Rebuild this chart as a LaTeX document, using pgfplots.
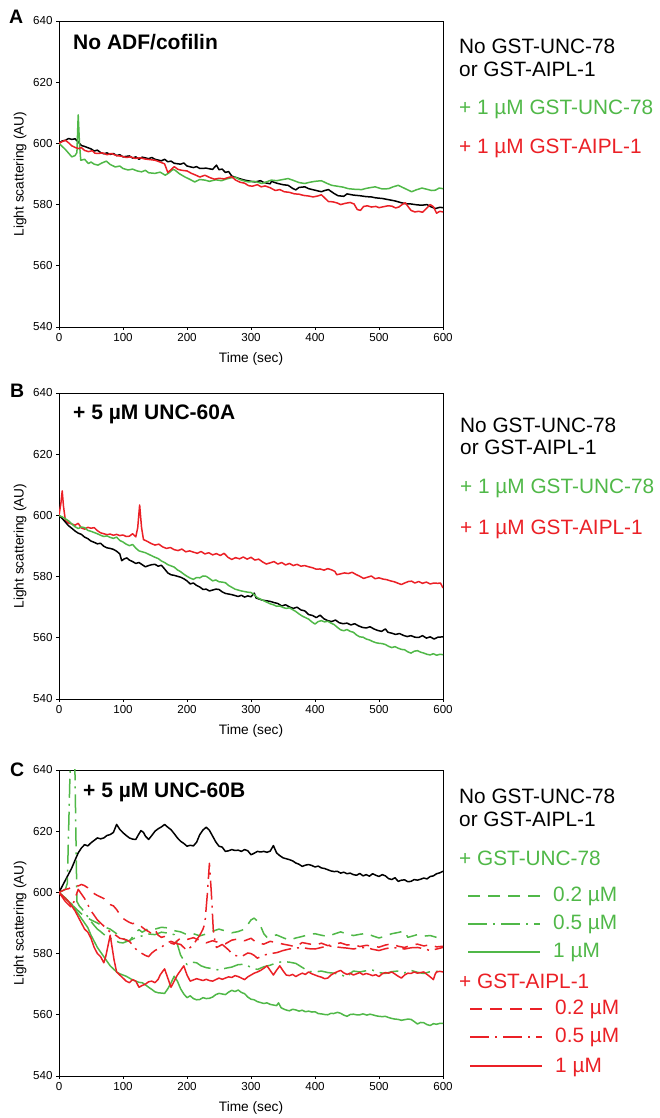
\documentclass[border=0pt]{standalone}
\usepackage{pgfplots}
\pgfplotsset{compat=1.18}
\usepackage{fontspec}
\setmainfont{Liberation Sans}
\definecolor{ggreen}{RGB}{80,184,72}
\definecolor{rred}{RGB}{235,32,38}
\tikzset{
  d02/.style={dash pattern=on 12pt off 8pt},
  d05/.style={dash pattern=on 19pt off 6pt on 2pt off 6pt},
}
\pgfplotsset{
  panel/.style={
    anchor=south west, scale only axis, width=384pt, height=306pt,
    xmin=0, xmax=600, ymin=540, ymax=640,
    xtick={0,100,...,600}, ytick={540,560,...,640},
    tick pos=left, tick align=outside, major tick length=3pt,
    axis line style={line width=0.9pt}, tick style={line width=0.8pt, black},
    ticklabel style={font=\fontsize{11.6}{13}\selectfont},
    /pgf/number format/assume math mode=true,
    /pgf/number format/1000 sep={},
    xlabel={Time (sec)}, ylabel={Light scattering (AU)},
    label style={font=\fontsize{13.7}{16}\selectfont},
    xlabel style={at={(axis description cs:0.5,-0.1176)}, anchor=base},
    ylabel style={at={(axis description cs:-0.1016,0.5)}, anchor=center},
    every axis plot/.append style={line width=1.5pt, line join=round},
  },
}
\begin{document}
\begin{tikzpicture}
\path[use as bounding box] (0pt,0pt) rectangle (660pt,1118pt);

% ---------------- A ----------------
\begin{axis}[panel, at={(59pt,791pt)}]
\addplot[black] coordinates {(0,600)(5,600.8)(10,601)(15,601.6)(20,601.3)(25,601.5)(30,600.5)(35,599.3)(40,599)(45,598.6)(50,598.2)(55,597.5)(60,597.8)(65,597)(70,596.6)(75,596.9)(80,596.4)(85,596.7)(90,596)(95,596.3)(100,595.6)(110,595.9)(115,595.2)(120,595.6)(125,594.8)(130,595.5)(140,595)(145,595.4)(150,594.8)(160,594.3)(165,594.8)(170,594)(175,594.2)(180,593.5)(190,593.2)(195,593.6)(200,592.6)(210,592.1)(215,592.4)(220,591.8)(230,591.9)(240,591.5)(246,592.9)(250,591.4)(255,591.6)(260,590.5)(265,590.8)(270,589.3)(280,588.6)(290,588)(300,587.6)(306,587.4)(315,587.8)(320,587.2)(330,586.8)(332,587.6)(340,587)(350,586.5)(358,586.3)(365,585.3)(370,584.8)(375,585.6)(384,585.8)(390,585.2)(400,584.7)(410,584.2)(415,584.6)(421,584.9)(430,583.6)(436,582.9)(445,582.7)(450,583.5)(460,583.1)(470,582.9)(480,582.6)(488,582.5)(495,582.2)(505,582)(515,581.6)(525,581.2)(535,580.6)(541,580.3)(550,580.2)(560,579.9)(567,579.8)(575,580)(580,579.4)(588,578.7)(595,579.1)(600,579)};
\addplot[ggreen] coordinates {(0,600)(5,599)(10,598)(15,596.8)(20,595.6)(25,596)(28,597)(30,609.3)(32,600)(34,594.5)(40,594.8)(46,593.4)(50,593.9)(55,593.2)(61,592.9)(67,593.6)(74,594.2)(80,593.1)(88,592.3)(95,592.6)(100,591.8)(108,591.3)(115,591.6)(122,591)(129,590.7)(135,591.2)(140,590.4)(150,590.2)(158,590.6)(166,589.6)(172,590.4)(178,591.5)(181,591.3)(188,590.1)(197,589)(204,588.3)(212,587.4)(220,588.2)(228,588)(235,587.6)(245,588.1)(254,587.8)(262,588.4)(270,588.8)(275,589)(282,588.2)(290,587.7)(296,587.4)(305,587.6)(317,586.9)(325,587.5)(332,588)(340,587.8)(350,588.2)(358,588.5)(365,588)(375,587.2)(384,586.9)(392,587.3)(400,587.6)(410,587.8)(418,587)(426,586.3)(435,586)(444,585.7)(452,585.2)(462,585)(473,584.9)(480,585.3)(488,585.6)(494,585.8)(505,585.1)(515,585.2)(522,585.8)(530,586.3)(538,585.5)(545,584.8)(551,584.2)(558,584.8)(567,585.4)(575,585)(582,584.6)(588,584.7)(594,585.4)(600,585.2)};
\addplot[rred] coordinates {(0,600)(5,600.6)(10,601)(15,600.2)(20,599.2)(25,598.7)(30,598.3)(35,598.6)(40,597.7)(46,597.3)(52,597.6)(56,596.8)(61,596.7)(68,596.9)(75,596.3)(82,596.7)(90,596)(98,595.8)(105,595.4)(112,595.6)(119,595.1)(127,595.3)(134,594.9)(142,594.7)(150,594.5)(158,593.9)(165,593.3)(170,590.5)(175,591.4)(180,592.4)(186,591.5)(192,591.2)(200,591)(207,590.2)(214,589.6)(220,589)(228,589.6)(236,588.8)(243,588.3)(250,588.6)(258,588.4)(265,588.9)(270,589.1)(276,588)(283,587.3)(290,587)(296,586.2)(302,586)(310,586.5)(316,585.8)(322,586.1)(330,585.5)(338,584.6)(345,584.9)(352,584.2)(360,584)(368,583.5)(375,583.4)(382,583)(390,582.8)(397,582.5)(404,582.8)(410,583.2)(416,582)(421,581)(428,580.9)(435,580.5)(440,580)(447,580.4)(455,580.7)(461,580.2)(466,578.4)(471,578.1)(476,579.4)(482,579.6)(488,579.2)(495,579.4)(500,579)(507,579.3)(514,579.6)(520,579.5)(526,578.9)(531,579.2)(536,580)(541,580.6)(546,579.2)(550,578.1)(556,577.6)(562,577.8)(568,577.5)(574,578.7)(580,580)(585,579.3)(590,577.2)(595,577.8)(600,577.6)};
\end{axis}

% ---------------- B ----------------
\begin{axis}[panel, at={(59pt,419pt)}]
\addplot[rred] coordinates {(0,600)(3,604)(5,608)(7,603)(10,598.3)(15,597.5)(20,597.2)(25,596.8)(30,597.4)(35,595.9)(40,595.5)(45,596.1)(50,595.8)(55,596)(60,595)(65,594.3)(70,594)(75,593.7)(80,593.9)(85,593.5)(90,593.8)(95,593.4)(100,593.6)(105,593.1)(110,593.2)(115,594)(120,593)(123,596)(126,603.4)(129,596)(132,592.1)(138,591.5)(144,590.8)(150,590.3)(156,590.6)(162,589.7)(168,589.2)(174,589.5)(180,588.8)(186,588.5)(192,589)(198,588.1)(204,588.4)(210,588)(216,587.6)(222,588.2)(228,587.4)(234,587.8)(240,587.1)(246,587.5)(252,586.9)(258,587.6)(264,586.3)(270,585.6)(276,586.2)(282,585.8)(288,586.4)(294,585.7)(300,586.3)(306,585.4)(312,585.7)(318,584.8)(324,584.1)(330,584.5)(336,584.9)(342,584.1)(348,584.6)(354,583.8)(360,584.3)(366,583.6)(372,584)(378,583.4)(384,583.6)(390,583.2)(396,582.9)(402,582.4)(408,582.5)(414,582.1)(420,582.6)(426,582.2)(431,581.7)(434,580.6)(440,580.9)(446,581.2)(452,581)(458,581.4)(464,580.7)(470,580.1)(476,579.4)(482,579.8)(488,580.2)(494,579.3)(500,579.6)(506,579.2)(512,579)(518,578.6)(524,578.3)(530,577.8)(535,577.4)(540,577.9)(546,578.4)(551,578.5)(556,577.9)(562,578.4)(568,577.8)(574,578.2)(580,577.6)(586,577.9)(592,577.8)(596,577.9)(600,576.3)};
\addplot[black] coordinates {(0,600)(5,599)(10,597.8)(15,596.6)(20,595.8)(25,594.9)(30,594.2)(35,593.8)(40,592.9)(45,592.4)(50,591.6)(55,591.2)(60,590.7)(65,590.9)(70,589.9)(75,589.4)(80,589.2)(85,588.9)(90,588.3)(95,587.4)(98,585.2)(102,585.8)(106,586.1)(110,585.4)(115,584.9)(120,584.3)(125,584.6)(130,583.9)(135,583.2)(140,583.6)(145,583.9)(150,584)(155,583.4)(160,583.7)(165,582.5)(170,581.2)(175,580.6)(180,580.4)(185,580.1)(190,579.8)(195,579.3)(200,578.6)(205,577.6)(210,577.9)(215,577.1)(220,576.6)(225,575.8)(230,575.9)(235,575.3)(240,575.6)(245,575.9)(250,575.8)(255,575)(260,574.5)(265,574.3)(270,574.1)(275,573.8)(280,573.5)(285,573.9)(290,573.3)(295,573.7)(300,573.4)(305,574.6)(308,573)(312,572.7)(318,572.3)(324,572.1)(330,571.9)(336,571.5)(342,571.2)(348,570.4)(354,570.8)(360,570.1)(366,569.6)(372,570)(378,569.1)(384,568.8)(390,567.6)(396,567.3)(402,566.6)(408,567.4)(414,566.2)(420,565.6)(426,565.3)(432,565.8)(438,564.9)(444,564.6)(450,564.8)(456,564.2)(462,564.6)(468,563.9)(474,563.4)(480,563.2)(486,563.6)(492,562.9)(498,562.4)(504,562.1)(510,562.9)(514,561.8)(520,561.5)(526,561.1)(532,561.4)(538,560.8)(544,560.4)(550,560.7)(556,560.2)(562,560.1)(568,560.7)(574,559.9)(580,560.3)(586,559.6)(592,560.2)(600,560.3)};
\addplot[ggreen] coordinates {(0,600)(5,599.5)(10,598.9)(15,598.2)(20,597.2)(25,596.3)(30,595.7)(35,596.2)(40,596)(45,595.1)(50,594.8)(55,594.4)(60,594)(65,593.5)(70,593.1)(75,593.3)(80,592.8)(85,592.5)(90,592.9)(95,591.8)(100,591.3)(105,590.6)(110,590.1)(115,590.5)(120,589.3)(125,588.4)(130,588.1)(135,587.8)(140,587.3)(145,586.8)(150,586.3)(155,585.9)(160,585.1)(165,584.6)(170,583.9)(175,583.5)(180,583.1)(185,582.2)(190,581.6)(195,580.8)(200,580.1)(205,579.5)(210,579.1)(215,579.7)(220,579.6)(225,580.2)(230,580.1)(235,579.4)(240,578.6)(245,578.9)(250,578.3)(255,578.2)(260,578.0)(265,577.1)(270,576.5)(275,575.9)(280,575.6)(285,575.3)(290,575.1)(295,574.9)(300,574.8)(305,574.1)(310,573.1)(315,572.6)(320,572.1)(325,571.6)(330,571.1)(335,570.8)(340,570.3)(345,570.4)(350,569.9)(355,569.6)(360,569.8)(365,569.2)(370,568.6)(375,567.8)(380,567.1)(385,566.6)(390,566.1)(395,565.2)(400,564.5)(405,565.3)(410,565.6)(415,565.2)(420,565.4)(425,564.8)(430,564.3)(435,563.4)(440,562.6)(445,562.3)(450,562.7)(455,562.1)(460,561.8)(465,560.9)(470,560.3)(475,560.2)(480,559.6)(485,559.3)(490,558.8)(495,558.4)(500,558.2)(505,558.1)(510,557.8)(515,557.2)(520,556.8)(525,557.1)(530,556.6)(535,556.2)(540,556.1)(545,555.4)(550,555.0)(555,555.6)(560,555.8)(565,555.3)(570,555.0)(575,554.6)(580,554.4)(585,554.8)(590,554.3)(595,554.6)(600,554.5)};
\end{axis}

% ---------------- C ----------------
\begin{axis}[panel, at={(59pt,42pt)}]
% black: no GST-UNC-78 or GST-AIPL-1
\addplot[black] coordinates {(0,600)(5,602)(10,604)(15,606)(20,608)(25,610.5)(30,612.9)(35,614.5)(40,615.6)(45,615.2)(50,616.2)(55,617)(60,617.8)(65,617.5)(70,617.8)(75,618.6)(80,618.9)(85,619.6)(90,622.2)(95,620.6)(100,619.5)(105,618.6)(110,617.8)(115,617.4)(120,617.3)(124,618.8)(128,620.2)(132,619.6)(135,618.4)(140,617.3)(145,618.6)(150,620)(155,620.8)(160,621.4)(165,622.2)(170,621.3)(175,620.5)(180,619.2)(185,617.8)(190,616.7)(195,616)(200,615.1)(205,615.4)(210,615.2)(215,616.4)(220,618.9)(225,620.4)(230,621.3)(235,620.3)(240,618.4)(245,616.5)(250,615.1)(255,614.8)(260,613.4)(265,613.6)(270,614)(275,613.7)(280,613.8)(285,613.4)(290,614)(295,613.6)(300,612.3)(305,612.8)(310,613.4)(315,613.2)(320,613.4)(325,613.1)(330,613.5)(335,615.3)(340,612.9)(345,612)(350,611.3)(355,611.0)(360,610.7)(365,610.3)(370,609.6)(375,609.2)(380,608.5)(385,608.9)(390,609.1)(395,608.8)(400,608.3)(405,608.6)(410,608)(415,607.8)(420,607.4)(425,607)(430,606.8)(435,606.9)(440,606.3)(445,606.6)(450,606.1)(455,606.3)(460,605.8)(465,605.6)(470,606.2)(475,605.4)(480,605.8)(485,605.3)(490,606.1)(495,605.6)(500,605.2)(505,605.8)(510,605.4)(515,604.5)(520,604.2)(525,604.8)(530,603.6)(535,604.0)(540,604.1)(545,603.5)(550,603.6)(555,604.2)(560,604.0)(565,604.3)(570,604.7)(575,604.4)(580,605.2)(585,605.4)(590,606.1)(595,606.4)(600,606.9)};
% green 0.2
\addplot[ggreen, d02] coordinates {(0,600)(5,599)(10,598.2)(15,597)(20,596)(25,595)(30,594)(35,593)(40,592.2)(50,591)(60,590)(70,588.8)(80,588)(90,586.5)(100,585)(105,584.3)(110,584)(115,585.5)(120,587)(125,587.8)(130,587)(140,588.2)(150,588)(160,588.6)(170,588.4)(180,587.5)(190,587.1)(200,586.2)(210,586.5)(220,585.8)(230,586.4)(240,587.3)(250,588)(260,587.4)(270,586.8)(280,587.2)(290,588)(295,589.5)(300,591)(305,591.6)(310,590.6)(315,589)(320,586.5)(325,585.3)(330,585.6)(340,586.1)(350,585.2)(360,584.4)(370,585.1)(380,585.6)(390,586.2)(400,586.5)(410,586)(420,585.6)(430,586.4)(440,587.1)(450,586.4)(460,585.9)(470,586.3)(480,586.6)(490,585.8)(500,585.1)(510,585.7)(520,586.5)(530,586.9)(540,587.4)(545,585.3)(550,585.6)(560,586.2)(570,585.7)(580,585.9)(590,585.3)(600,585.1)};
% green 0.5
\addplot[ggreen, d05] coordinates {(0,600)(5,600.5)(10,601)(13,603)(22,680)(28,597)(32,595.5)(36,594.6)(40,593.5)(45,592)(50,590.5)(55,589.2)(60,588)(65,587.2)(70,586.3)(75,585.6)(80,585)(85,584.4)(90,584)(95,583.6)(100,583.5)(110,584.3)(120,585.2)(130,585.8)(140,586.4)(150,586.2)(160,587)(170,586.7)(180,586.2)(185,583)(190,579.5)(195,577.8)(200,576.4)(208,577.2)(215,577)(222,576)(230,575.4)(240,575.1)(250,574.6)(260,575.2)(270,575.6)(280,576.4)(290,576.5)(300,575.5)(310,574.8)(320,575.7)(330,576.2)(340,577)(350,577.4)(360,577.2)(370,576.8)(380,575.5)(390,574.2)(400,574)(410,574.3)(420,573.8)(430,573.6)(440,573.1)(450,572.3)(455,573.5)(460,574.3)(470,574)(480,574.4)(490,574.6)(500,573.8)(510,573.5)(520,574.1)(530,574.3)(540,573.7)(550,574.5)(560,573.9)(570,573.5)(580,574.1)(590,574.2)(600,574.3)};
% green 1
\addplot[ggreen] coordinates {(0,600)(5,599)(10,598)(15,597)(20,596.2)(25,594.5)(30,593)(35,591.5)(40,590)(45,588.5)(50,586)(55,584)(60,582)(65,580.5)(70,579)(75,577.5)(80,576)(85,575)(90,574)(95,573.4)(100,573)(105,572.6)(110,572)(115,571.4)(120,571)(125,570.6)(130,570.5)(135,569.8)(140,569)(145,568.3)(150,567.5)(155,567.2)(160,567.1)(165,567)(170,568.5)(175,570.4)(180,572.6)(185,571)(190,568.5)(195,566.8)(200,565.6)(205,566.2)(210,565.3)(215,564.9)(220,565)(225,565.6)(230,565.3)(235,565.4)(240,565.8)(245,566.6)(250,567)(255,566.8)(260,566.6)(265,567.4)(270,568)(275,567.6)(280,568.1)(285,567.3)(290,566.9)(295,565.8)(300,565.1)(305,564.9)(310,564.3)(315,564)(320,563.7)(325,563.9)(330,563.4)(335,563.2)(340,563)(343,563.9)(347,562.3)(352,561.8)(356,561.5)(360,561.3)(365,561.8)(370,561.6)(375,561.2)(380,561.5)(385,561)(390,561.2)(395,560.9)(400,561)(405,560.4)(410,560.3)(415,560.1)(420,560)(425,560.5)(429,560.4)(435,560.8)(440,560.5)(445,559.9)(450,559.5)(455,560.1)(460,560.2)(465,560)(470,560)(475,560.3)(481,559.9)(486,560.2)(490,560)(495,559.7)(500,559.5)(505,559.4)(510,559.5)(515,559.1)(520,558.8)(525,558.6)(530,558.5)(535,558.2)(540,558.4)(545,558.6)(550,558.5)(555,557.8)(560,557)(565,557.5)(570,557.4)(575,556.8)(580,556.5)(585,557.1)(590,556.9)(595,557.2)(600,557.2)};
% red 0.2
\addplot[rred, d02] coordinates {(0,600)(5,600.5)(10,601)(15,601.2)(20,601.8)(25,602.4)(30,602.1)(35,602.6)(40,602.2)(45,601.5)(50,600.4)(55,599.6)(60,599)(65,598.5)(70,598)(75,596.8)(80,596)(85,595.6)(90,594.4)(95,592.8)(100,591.5)(105,590.8)(110,590.2)(115,589.8)(120,590)(125,589.5)(130,588.6)(135,587.8)(140,587.2)(145,586.5)(150,587.8)(155,586)(160,585.3)(165,585.6)(170,584.6)(175,583.4)(180,583.1)(185,584.2)(190,585.1)(200,584.6)(210,585.2)(220,584.3)(230,583.5)(240,584.2)(250,583.6)(260,583.2)(270,584.4)(280,584.8)(290,584.2)(300,585.0)(310,583.4)(320,583.1)(330,584.0)(340,583.6)(350,583.1)(360,582.7)(370,582.2)(380,583.6)(390,583.2)(400,582.8)(410,583.4)(420,582.6)(430,583.1)(440,583.5)(450,582.8)(460,583.0)(470,582.3)(480,582.7)(490,582.5)(500,582.1)(510,582.8)(520,583.2)(530,582.4)(540,582.0)(550,582.7)(560,583.1)(570,582.5)(580,582.9)(590,582.2)(600,582.4)};
% red 0.5
\addplot[rred, d05] coordinates {(0,600)(5,598.5)(10,597)(15,596)(20,595)(25,598)(30,601)(35,599.5)(40,598)(45,596)(50,594)(55,592.5)(60,591)(65,590)(70,589)(75,588)(80,587)(85,586.4)(90,585.8)(95,585)(100,584.8)(105,584.5)(110,584)(115,582.8)(120,581.5)(125,580.6)(130,580)(135,579.4)(140,579)(145,580.2)(150,581)(155,581.6)(160,582)(165,583)(170,583.6)(175,584)(180,583.6)(185,583.2)(190,583)(195,582)(200,581)(205,582)(210,583)(215,584.5)(220,586)(225,588)(228,590)(232,600)(235,609.5)(238,600)(241,588)(244,583.5)(246,582)(250,582.4)(255,583)(260,582.1)(265,581.2)(270,580)(275,579.4)(280,579.2)(285,579)(290,579.6)(295,580.2)(300,580)(305,579.4)(310,578.5)(315,579)(320,579.5)(330,580)(340,580.3)(350,581)(360,581.5)(370,581.8)(380,582)(390,581.6)(400,581.5)(410,582)(420,582.5)(430,582.3)(440,582)(450,581.8)(460,581.5)(470,581.9)(480,582)(490,581.4)(500,581)(510,581.6)(520,582)(530,581.8)(540,581.5)(550,581.9)(560,582)(570,581.6)(580,581)(590,581.5)(600,582)};
% red 1
\addplot[rred] coordinates {(0,600)(5,599)(10,598)(15,597)(20,595.5)(25,594)(30,592)(35,590)(40,588)(45,587)(50,585)(55,582)(60,580)(65,579)(70,577)(73,579)(76,582)(80,586)(83,582)(86,578)(90,574)(95,573)(100,572)(105,571)(110,570.5)(115,571.5)(120,571)(125,569)(130,569.6)(135,570)(140,570.8)(145,571)(150,570.5)(155,571.6)(158,573)(162,574.2)(165,575)(170,572)(175,569)(180,571)(185,573)(190,574.5)(195,576)(200,573)(205,571)(210,571.4)(215,571.8)(220,571.5)(225,571.2)(230,571.6)(235,571.2)(240,571)(245,571.5)(250,572)(255,571.6)(260,572)(265,572.4)(270,572.2)(275,572.8)(280,572.5)(285,572)(290,571.5)(295,572.4)(300,573)(305,573.6)(310,574)(315,574.5)(320,575.2)(325,576)(330,574.5)(335,573)(340,574.6)(345,576)(350,574.4)(355,573)(360,572.8)(365,573.2)(370,572.5)(375,573.1)(380,573.6)(385,573.2)(390,574)(395,573.4)(400,573)(405,572.6)(410,572.3)(415,571.8)(420,572)(425,573)(430,573.6)(435,574.1)(440,574.5)(445,573.7)(450,573.2)(455,573.6)(460,573)(465,573.4)(470,573.8)(475,573.1)(480,573.5)(485,573.2)(490,572.8)(495,573.1)(500,572.5)(505,573.4)(510,573.8)(515,573.6)(520,574)(525,573.3)(530,572.6)(535,572)(540,573)(545,573.6)(550,573.5)(555,574)(560,573.6)(565,573.8)(570,574)(575,573.2)(580,572.4)(585,571.5)(588,573.4)(590,574)(595,574.2)(600,574)};
\end{axis}

% panel letters and titles
\begin{scope}[every node/.style={inner sep=0pt, anchor=base west}]
\node[font=\bfseries\fontsize{19.5}{22}\selectfont] at (9pt,1094pt) {A};
\node[font=\bfseries\fontsize{19.5}{22}\selectfont] at (10pt,720pt) {B};
\node[font=\bfseries\fontsize{19.5}{22}\selectfont] at (10pt,341pt) {C};
\node[font=\bfseries\fontsize{21}{24}\selectfont] at (73pt,1068pt) {No ADF/cofilin};
\node[font=\bfseries\fontsize{21}{24}\selectfont] at (73pt,698pt) {+ 5 µM UNC-60A};
\node[font=\bfseries\fontsize{21}{24}\selectfont] at (83pt,320pt) {+ 5 µM UNC-60B};
\end{scope}

% legends
\begin{scope}[every node/.style={inner sep=0pt, anchor=base west, font=\fontsize{20.8}{24}\selectfont}]
\node at (459pt,1064pt) {No GST-UNC-78};
\node at (459pt,1041pt) {or GST-AIPL-1};
\node[text=ggreen] at (459pt,1003pt) {+ 1 µM GST-UNC-78};
\node[text=rred] at (459pt,964pt) {+ 1 µM GST-AIPL-1};

\node at (460pt,685pt) {No GST-UNC-78};
\node at (460pt,663pt) {or GST-AIPL-1};
\node[text=ggreen] at (460pt,624pt) {+ 1 µM GST-UNC-78};
\node[text=rred] at (460pt,583pt) {+ 1 µM GST-AIPL-1};

\node at (459pt,314pt) {No GST-UNC-78};
\node at (459pt,291pt) {or GST-AIPL-1};
\node[text=ggreen] at (459pt,252pt) {+ GST-UNC-78};
\node[text=ggreen] at (553pt,216pt) {0.2 µM};
\node[text=ggreen] at (553pt,188pt) {0.5 µM};
\node[text=ggreen] at (553pt,160pt) {1 µM};
\node[text=rred] at (459pt,129pt) {+ GST-AIPL-1};
\node[text=rred] at (555pt,103pt) {0.2 µM};
\node[text=rred] at (555pt,75pt) {0.5 µM};
\node[text=rred] at (555pt,45pt) {1 µM};
\end{scope}
\draw[ggreen, line width=1.5pt, d02] (468pt,222pt) -- (540pt,222pt);
\draw[ggreen, line width=1.5pt, d05] (468pt,194pt) -- (540pt,194pt);
\draw[ggreen, line width=1.5pt] (468pt,166pt) -- (540pt,166pt);
\draw[rred, line width=1.5pt, d02] (470pt,109pt) -- (542pt,109pt);
\draw[rred, line width=1.5pt, d05] (470pt,81pt) -- (542pt,81pt);
\draw[rred, line width=1.5pt] (470pt,52pt) -- (542pt,52pt);
\end{tikzpicture}
\end{document}
